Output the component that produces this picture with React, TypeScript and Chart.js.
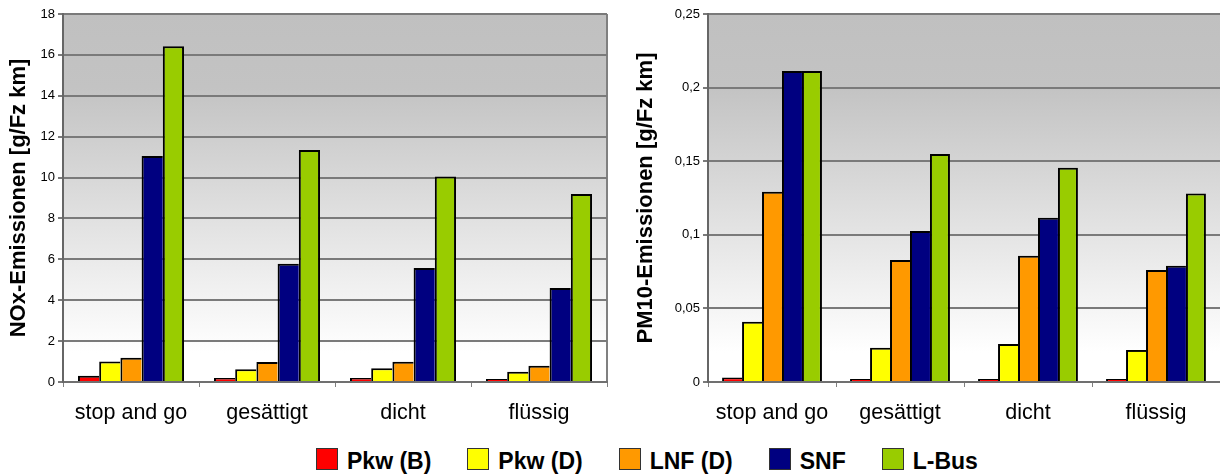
import React, { useEffect, useRef } from "react";
import { Chart, registerables } from "chart.js";

Chart.register(...registerables);

const categories = ["stop and go", "gesättigt", "dicht", "flüssig"];
const seriesNames = ["Pkw (B)", "Pkw (D)", "LNF (D)", "SNF", "L-Bus"];
const seriesColors = ["#FF0000", "#FFFF00", "#FF9900", "#000080", "#99CC00"];

// NOx emissions [g/Fz km]
const noxPkwB = [0.3, 0.2, 0.2, 0.08];
const noxPkwD = [1.0, 0.62, 0.67, 0.5];
const noxLNF = [1.19, 0.98, 0.99, 0.8];
const noxSNF = [11.05, 5.78, 5.58, 4.6];
const noxLBus = [16.42, 11.35, 10.05, 9.2];

// PM10 emissions [g/Fz km]
const pmPkwB = [0.003, 0.0012, 0.0012, 0.0012];
const pmPkwD = [0.041, 0.0233, 0.0258, 0.0218];
const pmLNF = [0.1293, 0.0829, 0.0858, 0.0761];
const pmSNF = [0.2112, 0.1025, 0.1115, 0.079];
const pmLBus = [0.2112, 0.1549, 0.1456, 0.128];

const noxAxis = { min: 0, max: 18, step: 2, title: "NOx-Emissionen [g/Fz km]" };
const pmAxis = { min: 0, max: 0.25, step: 0.05, title: "PM10-Emissionen [g/Fz km]" };

const FONT = "'Liberation Sans', Arial, sans-serif";

const bgPlugin = (drawRightBorder: boolean) => ({
  id: "plotBg",
  beforeDraw(chart: any) {
    const { ctx, chartArea } = chart;
    const { left, top, right, bottom } = chartArea;
    const g = ctx.createLinearGradient(0, top, 0, bottom);
    g.addColorStop(0, "#c0c0c0");
    g.addColorStop(0.2, "#c3c3c3");
    g.addColorStop(0.92, "#ffffff");
    g.addColorStop(1, "#ffffff");
    ctx.save();
    ctx.fillStyle = g;
    ctx.fillRect(left, top, right - left, bottom - top);
    if (drawRightBorder) {
      ctx.strokeStyle = "#808080";
      ctx.lineWidth = 2;
      ctx.beginPath();
      ctx.moveTo(right, top);
      ctx.lineTo(right, bottom);
      ctx.stroke();
    }
    ctx.restore();
  },
});

function makeConfig(
  series: number[][],
  axis: { min: number; max: number; step: number; title: string },
  yWidth: number,
  titlePad: number,
  padRight: number,
  decimalComma: boolean,
  drawRightBorder: boolean
): any {
  return {
    type: "bar",
    data: {
      labels: categories,
      datasets: series.map((vals, i) => ({
        label: seriesNames[i],
        data: vals,
        backgroundColor: seriesColors[i],
        borderColor: "#000000",
        borderWidth: { top: 2, left: 2, right: i === series.length - 1 ? 2 : 0, bottom: 0 },
        borderSkipped: "bottom",
        minBarLength: i === 0 ? 3 : 0,
        categoryPercentage: 0.78,
        barPercentage: 1,
      })),
    },
    options: {
      animation: false,
      responsive: false,
      maintainAspectRatio: false,
      layout: { padding: { top: 14, right: padRight, left: 0, bottom: 0 } },
      plugins: { legend: { display: false }, tooltip: { enabled: false } },
      scales: {
        x: {
          offset: true,
          grid: {
            offset: true,
            drawOnChartArea: false,
            drawTicks: true,
            tickLength: 5,
            color: "#808080",
            lineWidth: 1,
          },
          border: { display: true, color: "#707070", width: 2 },
          ticks: {
            color: "#000000",
            padding: 13,
            font: { family: FONT, size: 21.5 },
            maxRotation: 0,
          },
          afterFit(scale: any) {
            scale.height = 48;
          },
        },
        y: {
          min: axis.min,
          max: axis.max,
          grid: {
            color: "#7a7a7a",
            lineWidth: 2,
            drawTicks: true,
            tickLength: 5,
          },
          border: { display: true, color: "#666666", width: 2 },
          ticks: {
            stepSize: axis.step,
            color: "#000000",
            padding: 3,
            font: { family: FONT, size: 13 },
            callback: (v: any) => {
              const n = Number(Number(v).toFixed(2));
              const s = String(n);
              return decimalComma ? s.replace(".", ",") : s;
            },
          },
          title: {
            display: true,
            text: axis.title,
            color: "#000000",
            font: { family: FONT, size: 22, weight: "bold" },
            padding: { top: titlePad, bottom: 0 },
          },
          afterFit(scale: any) {
            scale.width = yWidth;
          },
        },
      },
    },
    plugins: [bgPlugin(drawRightBorder)],
  };
}

function BarChart(props: { config: any; width: number; height: number; left: number }) {
  const ref = useRef<HTMLCanvasElement | null>(null);
  useEffect(() => {
    if (!ref.current) return;
    const chart = new Chart(ref.current, props.config);
    return () => chart.destroy();
  }, []);
  return (
    <canvas
      ref={ref}
      width={props.width}
      height={props.height}
      style={{ position: "absolute", left: props.left, top: 0, width: props.width, height: props.height }}
    />
  );
}

export default function App() {
  const noxConfig = makeConfig(
    [noxPkwB, noxPkwD, noxLNF, noxSNF, noxLBus],
    noxAxis,
    63,
    5.8,
    13,
    false,
    true
  );
  const pmConfig = makeConfig(
    [pmPkwB, pmPkwD, pmLNF, pmSNF, pmLBus],
    pmAxis,
    88,
    12.4,
    0,
    true,
    false
  );
  return (
    <div
      style={{
        position: "fixed",
        left: 0,
        top: 0,
        width: 1220,
        height: 475,
        background: "#ffffff",
        overflow: "hidden",
      }}
    >
      <BarChart config={noxConfig} width={620} height={430} left={0} />
      <BarChart config={pmConfig} width={600} height={430} left={620} />
      <div
        style={{
          position: "absolute",
          left: 316,
          top: 448,
          height: 22,
          display: "flex",
          alignItems: "center",
          fontFamily: FONT,
          fontWeight: "bold",
          fontSize: 23,
          color: "#000",
        }}
      >
        {seriesNames.map((name, i) => (
          <div key={name} style={{ display: "flex", alignItems: "center", marginRight: 36 }}>
            <div
              style={{
                width: 22,
                height: 22,
                boxSizing: "border-box",
                border: "1px solid #333333",
                background: seriesColors[i],
                marginRight: 9,
              }}
            />
            <span style={{ lineHeight: "22px", position: "relative", top: 2, whiteSpace: "nowrap" }}>{name}</span>
          </div>
        ))}
      </div>
    </div>
  );
}
